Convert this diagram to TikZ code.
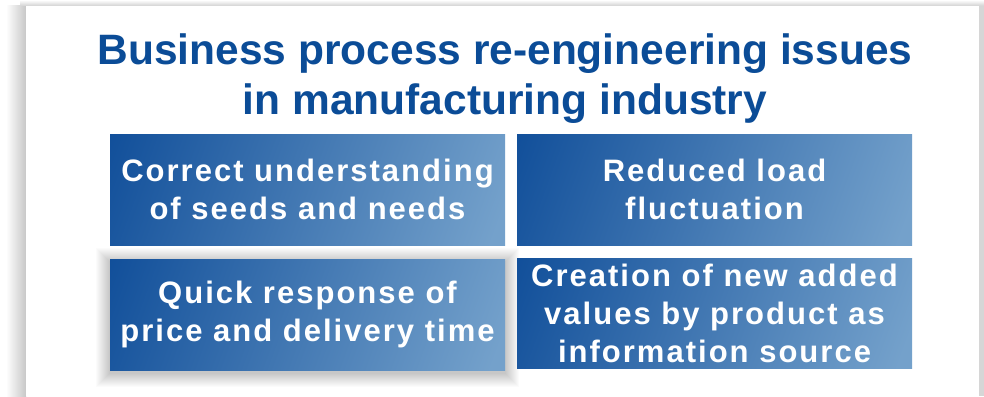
\documentclass[tikz,border=0pt]{standalone}
\usepackage{fontspec}
\setmainfont{Liberation Sans}
\newfontfamily\titlefont{Liberation Sans}
\newfontfamily\boxfont[LetterSpace=6.5]{Liberation Sans}
\usetikzlibrary{positioning}
\definecolor{titleblue}{HTML}{0B4C97}
\definecolor{boxdark}{HTML}{0B4A97}
\definecolor{boxlight}{HTML}{74A1CB}
\pgfdeclarehorizontalshading{issueshade}{100bp}{color(0bp)=(boxdark); color(14bp)=(boxdark); color(80bp)=(boxlight); color(100bp)=(boxlight)}
\tikzset{
  issue/.style={minimum width=395pt, minimum height=111pt, inner sep=0pt,
    shading=issueshade, shading angle=-20,
    text=white, align=center, font=\boxfont\bfseries\fontsize{31}{38}\selectfont},
}
\begin{document}
\begin{tikzpicture}[x=1pt, y=-1pt]
\useasboundingbox (0,0) rectangle (984,396);
% panel and its shadow
\shade[left color=white, right color=black!22] (6,6) rectangle (26,396);
\shade[top color=white, bottom color=black!18] (20,0) rectangle (984,6);
\fill[black!16] (979,6) rectangle (984,396);
\fill[white] (26,6) rectangle (979,396);
\node[font=\titlefont\bfseries\fontsize{42.5}{50}\selectfont, text=titleblue, align=center] (P_title) at (505,79) {Business process re-engineering issues\\in manufacturing industry};
% shadow of the third box
\foreach \d in {1,...,14}
  \fill[black, opacity=0.016] (110-\d,259-\d+3) rectangle (505+\d,370+\d+3);
\node[issue] (P_0_0) at (307.5,189.5) {Correct understanding\\of seeds and needs};
\node[issue] (P_1_0) at (714.5,189.5) {Reduced load\\fluctuation};
\node[issue] (P_0_1) at (307.5,314.5) {Quick response of\\price and delivery time};
\node[issue, minimum height=110pt] (P_1_1) at (714.5,313) {Creation of new added\\values by product as\\information source};
\end{tikzpicture}
\end{document}
